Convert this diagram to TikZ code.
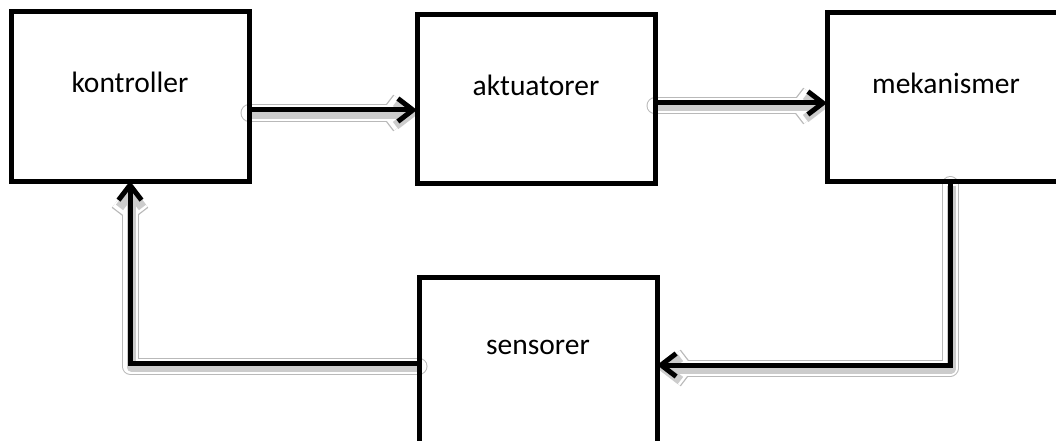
\documentclass[tikz,border=0pt]{standalone}
\usepackage{fontspec}
\setmainfont{Carlito}
\usetikzlibrary{arrows.meta}
\pgfdeclarelayer{bg}
\pgfsetlayers{bg,main}
\begin{document}
\begin{tikzpicture}[x=1pt,y=-1pt,
  box/.style={draw=black, line width=5pt, minimum width=238pt, minimum height=169pt,
    inner sep=0pt, outer sep=0pt},
  lbl/.style={font=\fontsize{29.5}{33}\selectfont, inner sep=0pt},
  flow/.style={line width=5pt, -{Straight Barb[length=15pt,width=23pt]},
    preaction={draw=gray!55, line width=17pt, line cap=round, line join=round,
      transform canvas={yshift=-3pt}},
    preaction={draw=white, line width=15pt, line cap=round, line join=round,
      transform canvas={yshift=-3pt}},
    preaction={draw=gray!40, line width=9pt, line join=round,
      transform canvas={xshift=1pt,yshift=-4pt}}}]
  \useasboundingbox (0,0) rectangle (1056,441);
  \clip (0,0) rectangle (1056,441);

  % blocks
  \node[box] (k) at (130,96.5) {};
  \node[box] (a) at (536,99) {};
  \node[box] (m) at (946,97) {};
  \node[box] (s) at (538,361.5) {};

  \node[lbl] (kt) at ([yshift=14pt]k.center) {kontroller};
  \node[lbl] (at) at ([yshift=14pt]a.center) {aktuatorer};
  \node[lbl] (mt) at ([yshift=14pt]m.center) {mekanismer};
  \node[lbl] (st) at ([yshift=14pt]s.center) {sensorer};

  % connector end points
  \coordinate (k1) at ([yshift=-13.5pt]k.east);
  \coordinate (a1) at ([yshift=-4pt]a.east);
  \coordinate (m1) at ([xshift=4pt]m.south);
  \coordinate (s1) at ([yshift=-3.5pt]s.east);
  \coordinate (s2) at ([yshift=-1.5pt]s.west);

  \begin{pgfonlayer}{bg}
    \draw[flow] (k1) -- (k1 -| a.west);
    \draw[flow] (a1) -- (a1 -| m.west);
    \draw[flow] (m1) |- (s1);
    \draw[flow] (s2) -| (k.south);
  \end{pgfonlayer}
\end{tikzpicture}
\end{document}
